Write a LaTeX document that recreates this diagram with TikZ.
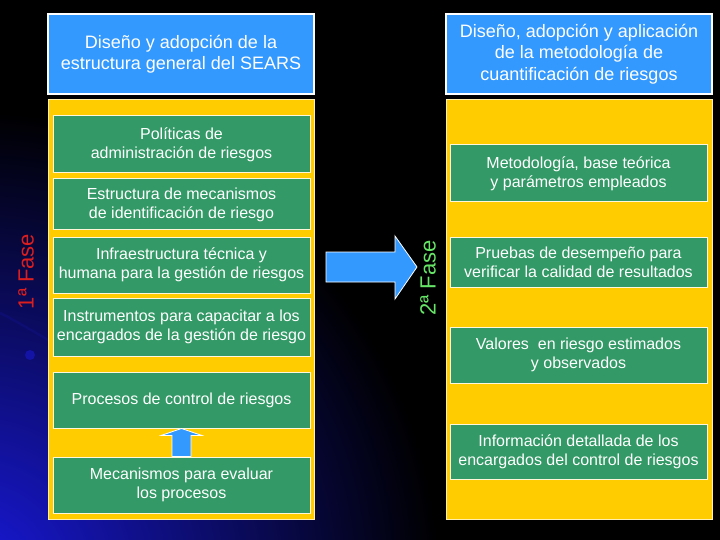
\documentclass[tikz,border=0pt]{standalone}
\usepackage{fontspec}
\setmainfont{Liberation Sans}
\usetikzlibrary{calc}
\definecolor{hdrblue}{RGB}{51,153,255}
\definecolor{panelyellow}{RGB}{255,204,0}
\definecolor{boxgreen}{RGB}{51,153,102}
\definecolor{glowblue}{RGB}{25,25,220}
\definecolor{phasered}{RGB}{220,30,30}
\definecolor{phasegreen}{RGB}{102,230,102}
\begin{document}
\begin{tikzpicture}[x=1pt,y=-1pt,
  hdr/.style={draw=white, line width=1.2pt, fill=hdrblue, text=white,
    minimum width=266pt, minimum height=80pt, inner sep=0pt, align=center,
    font=\fontsize{18}{21.5}\selectfont},
  panel/.style={draw=white!70!panelyellow, line width=0.8pt, fill=panelyellow,
    minimum width=266pt, minimum height=420pt, inner sep=0pt},
  gbox/.style={draw=white!85!panelyellow, line width=1pt, fill=boxgreen, text=white,
    minimum width=257pt, inner sep=0pt, align=center,
    font=\fontsize{16}{19}\selectfont},
  arr/.style={draw=white, line width=0.8pt, fill=hdrblue, line join=miter},
  phase/.style={font=\fontsize{22}{22}\selectfont, rotate=90, inner sep=0pt}]
\useasboundingbox (0,0) rectangle (720,540);
% background
\fill[black] (0,0) rectangle (720,540);
\begin{scope}
  \clip (0,0) rectangle (720,540);
  \shade[inner color=glowblue, outer color=black] (-30,580) circle (470);
  \draw[glowblue!55!black, line width=2.5pt, opacity=.7] (0,313) .. controls (18,322) and (34,332) .. (52,342);
  \fill[glowblue!75!black] (30,355) circle (5);
\end{scope}
% left column
\node[hdr] (hdrL) at (181,54) {Diseño y adopción de la\\estructura general del SEARS};
\node[panel] (panL) at (181,309) {};
\node[gbox, minimum height=57pt] (pol) at (181.5,144.5) {Políticas de\\administración de riesgos};
\node[gbox, minimum height=51pt] (est) at (181.5,204.5) {Estructura de mecanismos\\de identificación de riesgo};
\node[gbox, minimum height=56pt] (inf) at (181.5,265) {Infraestructura técnica y\\humana para la gestión de riesgos};
\node[gbox, minimum height=58pt] (ins) at (181.5,327) {Instrumentos para capacitar a los\\encargados de la gestión de riesgo};
\node[gbox, minimum height=56pt] (pro) at (181.5,400) {Procesos de control de riesgos};
\node[gbox, minimum height=56pt] (mec) at (181.5,485) {Mecanismos para evaluar\\los procesos};
% up arrow
\draw[arr] ($(mec.north)+(-9.5,0)$) -- ($(mec.north)+(-9.5,-21)$) -- ($(mec.north)+(-20.5,-21)$)
  -- (pro.south) -- ($(mec.north)+(20.5,-21)$) -- ($(mec.north)+(9.5,-21)$) -- ($(mec.north)+(9.5,0)$) -- cycle;
% right column
\node[hdr] (hdrR) at (579,54) {Diseño, adopción y aplicación\\de la metodología de\\cuantificación de riesgos};
\node[panel] (panR) at (579,309) {};
\node[gbox, minimum height=57pt] (met) at (578.5,173.5) {Metodología, base teórica\\y parámetros empleados};
\node[gbox, minimum height=50pt] (pru) at (578.5,262) {Pruebas de desempeño para\\verificar la calidad de resultados};
\node[gbox, minimum height=56pt] (val) at (578.5,355) {Valores\ \ en riesgo estimados\\y observados};
\node[gbox, minimum height=55pt] (inf2) at (578.5,451.5) {Información detallada de los\\encargados del control de riesgos};
% big arrow between phases
\coordinate (atail) at (326,267);
\coordinate (atip) at (417,267);
\draw[arr] ($(atail)+(0,-15)$) -- ($(atip)+(-22,-15)$) -- ($(atip)+(-22,-31)$) -- (atip)
  -- ($(atip)+(-22,32)$) -- ($(atip)+(-22,15)$) -- ($(atail)+(0,15)$) -- cycle;
% phase labels
\node[phase, text=phasered] (ph1) at (26,271.5) {1ª Fase};
\node[phase, text=phasegreen] (ph2) at (428,278) {2ª Fase};
\end{tikzpicture}
\end{document}
